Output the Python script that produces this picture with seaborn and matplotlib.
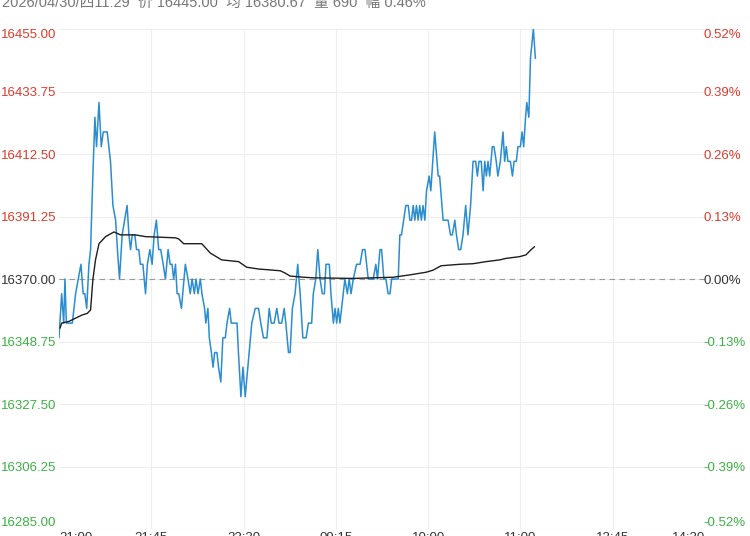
#!/usr/bin/python
# coding: utf-8

import matplotlib
matplotlib.use('Agg')
import matplotlib.pyplot as plt
import seaborn as sns
import pandas as pd

# previous settlement price, the 0.00% line
prev_close = 16370.0

y_ticks = [16285.00, 16306.25, 16327.50, 16348.75, 16370.00, 16391.25, 16412.50, 16433.75, 16455.00]
x_ticks = [0, 45, 90, 135, 180, 225, 270, 315]
x_labels = ['21:00', '21:45', '22:30', '09:15', '10:00', '11:00', '13:45', '14:30']

header = '2026/04/30/四11:29  价 16445.00  均 16380.67  量 690  幅 0.46%'

# trading minutes since 21:00 and last price
price_min = [0, 1.3, 2.3, 2.9, 3.6, 6.5, 8.1, 10.7, 11.8, 12.6, 13.5, 14.6, 15.4, 16.5, 17.5,
             18.3, 19.5, 20.6, 21.6, 23.5, 25.1, 26.3, 27.6, 28.5, 29.5, 30.8, 33.2, 34.1, 34.9,
             35.7, 37.0, 37.8, 38.9, 39.7, 40.9, 42.2, 43.1, 44.3, 45.4, 46.4, 47.5, 48.6, 49.6,
             50.8, 51.9, 53.2, 54.2, 55.1, 55.9, 56.8, 57.6, 58.4, 59.7, 61.6, 62.9, 64.0, 64.9,
             66.0, 66.8, 67.8, 68.9, 69.7, 71.0, 71.6, 72.6, 73.3, 74.3, 75.1, 75.9, 77.0, 77.8,
             78.9, 79.9, 81.1, 81.9, 83.2, 84.0, 86.8, 87.5, 88.7, 89.7, 90.8, 92.7, 94.0, 95.7,
             97.3, 98.4, 99.7, 101.4, 102.5, 103.5, 104.9, 106.2, 107.3, 108.6, 109.8, 110.6,
             111.9, 112.7, 113.8, 115.1, 116.4, 117.6, 118.9, 120.5, 121.6, 123.2, 124.0, 125.2,
             126.2, 127.3, 128.4, 129.4, 130.2, 131.8, 132.6, 133.8, 134.6, 135.4, 136.2, 137.0,
             137.8, 138.6, 139.4, 140.6, 141.5, 142.4, 143.5, 145.1, 146.8, 148.0, 149.2, 150.0,
             150.8, 153.2, 154.5, 155.3, 156.5, 157.3, 158.4, 159.4, 160.5, 161.4, 162.2, 165.4,
             166.2, 167.0, 169.1, 170.3, 171.1, 171.9, 172.7, 173.5, 174.3, 175.1, 175.9, 176.7,
             177.5, 178.4, 179.2, 180.5, 181.3, 183.2, 184.9, 185.6, 187.3, 189.7, 190.9, 191.8,
             193.0, 193.8, 194.9, 195.9, 197.0, 198.3, 199.4, 200.7, 201.9, 203.2, 204.0, 204.8,
             205.9, 206.8, 207.6, 208.4, 209.2, 210.0, 211.3, 212.1, 213.2, 214.0, 215.2, 216.5,
             217.3, 218.1, 218.9, 220.1, 221.1, 221.9, 223.0, 223.8, 225.0, 225.8, 226.6, 227.5,
             228.1, 229.1, 229.9, 231.3, 232.3]
price = [16350, 16365, 16355, 16370, 16355, 16355, 16365, 16375, 16365, 16365, 16360, 16375, 16380, 16405, 16425,
         16415, 16430, 16415, 16420, 16420, 16410, 16395, 16390, 16380, 16370, 16385, 16395, 16385, 16380,
         16385, 16385, 16380, 16380, 16375, 16375, 16365, 16375, 16380, 16375, 16385, 16390, 16380, 16380,
         16375, 16370, 16380, 16375, 16375, 16370, 16375, 16365, 16365, 16360, 16375, 16370, 16365, 16370,
         16365, 16370, 16365, 16370, 16365, 16360, 16355, 16360, 16350, 16345, 16340, 16345, 16345, 16340,
         16335, 16350, 16350, 16355, 16360, 16355, 16355, 16345, 16330, 16340, 16330, 16345, 16355, 16360,
         16360, 16355, 16350, 16350, 16360, 16355, 16355, 16360, 16355, 16355, 16360, 16355,
         16345, 16345, 16360, 16365, 16375, 16365, 16350, 16350, 16355, 16355, 16365, 16370,
         16380, 16370, 16365, 16365, 16375, 16375, 16365, 16355, 16360, 16355, 16360, 16355,
         16360, 16365, 16370, 16365, 16370, 16365, 16370, 16375, 16375, 16380, 16380, 16375,
         16370, 16370, 16375, 16370, 16380, 16380, 16370, 16370, 16365, 16365, 16370, 16370,
         16385, 16385, 16395, 16395, 16390, 16390, 16395, 16390, 16395, 16390, 16395, 16390,
         16395, 16390, 16400, 16405, 16400, 16420, 16405, 16405, 16390, 16390, 16385, 16385,
         16390, 16385, 16380, 16380, 16385, 16395, 16385, 16395, 16410, 16410, 16405, 16410,
         16410, 16400, 16410, 16405, 16410, 16405, 16415, 16415, 16410, 16405, 16410, 16420,
         16410, 16415, 16410, 16410, 16405, 16410, 16410, 16415, 16415, 16420, 16415, 16425,
         16430, 16425, 16445, 16455, 16445]

# average price line
avg_min = [0.5, 1.3, 4.9, 8.1, 11.4, 13.8, 15.4, 16.5, 17.8, 19.5, 22.7, 26.8, 30.0, 37.3, 42.2,
           56.8, 58.4, 60.8, 69.6, 73.8, 79.3, 87.6, 91.5, 97.3, 107.9, 110.3, 112.7, 119.2, 124.0,
           143.5, 163.0, 171.1, 179.0, 182.4, 186.3, 195.4, 201.9, 208.2, 214.9, 217.9, 224.6,
           227.7, 230.1, 231.9]
avg_price = [16353.3, 16355.0, 16355.6, 16356.7, 16357.8, 16358.3, 16359.5, 16369.7, 16376.5, 16382.0,
             16384.4, 16386.0, 16385.0, 16385.0, 16384.4, 16384.0, 16383.6, 16382.0, 16382.0, 16378.8,
             16376.5, 16375.9, 16374.0, 16373.4, 16372.8, 16372.0, 16371.0, 16370.6, 16370.4, 16370.2,
             16370.6, 16371.4, 16372.3, 16373.0, 16374.5, 16375.0, 16375.2, 16375.9, 16376.5, 16377.0,
             16377.6, 16378.2, 16379.9, 16381.0]


def label_color(v):
    if v > prev_close + 1e-6:
        return '#e0392d'
    if v < prev_close - 1e-6:
        return '#3cb044'
    return '#333333'


def main():
    sns.set_style('white')
    plt.rcParams['font.family'] = ['Liberation Sans', 'Noto Sans CJK SC', 'DejaVu Sans']

    fig = plt.figure(figsize=(7.5, 5.36), dpi=100)
    ax = fig.add_axes([59 / 750, 7 / 536, 646 / 750, 500 / 536])

    ax.axhline(prev_close, color='#9a9a9a', lw=0.8, ls=(0, (5, 4)), zorder=1)

    df_price = pd.DataFrame({'t': price_min, 'p': price})
    df_avg = pd.DataFrame({'t': avg_min, 'p': avg_price})
    sns.lineplot(data=df_price, x='t', y='p', ax=ax, color='#2a8dd0', lw=1.1, zorder=3)
    sns.lineplot(data=df_avg, x='t', y='p', ax=ax, color='#1e1e1e', lw=1.0, zorder=4)

    ax.set_xlim(0, 315)
    ax.set_ylim(y_ticks[0], y_ticks[-1])
    ax.set(xlabel=None, ylabel=None)

    ax.set_xticks(x_ticks)
    ax.set_xticklabels(x_labels)
    ax.set_yticks(y_ticks)
    ax.set_yticklabels(['%.2f' % v for v in y_ticks])
    ax.grid(True, color='#eeeeee', lw=0.8)
    # no vertical grid on the two outer edges
    ax.get_xgridlines()[0].set_visible(False)
    ax.get_xgridlines()[-1].set_visible(False)
    ax.tick_params(axis='both', length=0, labelsize=9.5)
    ax.tick_params(axis='y', pad=2)
    ax.tick_params(axis='x', pad=2, colors='#333333')

    for lab, v in zip(ax.get_yticklabels(), y_ticks):
        lab.set_color(label_color(v))
    ax.get_yticklabels()[0].set_va('bottom')
    ax.get_yticklabels()[-1].set_va('top')
    ax.get_xticklabels()[0].set_ha('left')
    ax.get_xticklabels()[-1].set_ha('right')

    # percentage axis on the right
    ax2 = ax.twinx()
    ax2.set_ylim(y_ticks[0], y_ticks[-1])
    ax2.set_yticks(y_ticks)
    ax2.set_yticklabels(['%.2f%%' % ((v - prev_close) / prev_close * 100 + 0.0) for v in y_ticks])
    ax2.tick_params(axis='y', length=0, labelsize=9.5, pad=-1)
    for lab, v in zip(ax2.get_yticklabels(), y_ticks):
        lab.set_color(label_color(v))
    ax2.get_yticklabels()[0].set_va('bottom')
    ax2.get_yticklabels()[-1].set_va('top')

    for a in (ax, ax2):
        for s in a.spines.values():
            s.set_visible(False)

    fig.text(0.003, 1 - 3 / 536, header, color='#777777', fontsize=10.5, va='center', ha='left')

    fig.savefig('out.png', dpi=100)


if __name__ == '__main__':
    main()
